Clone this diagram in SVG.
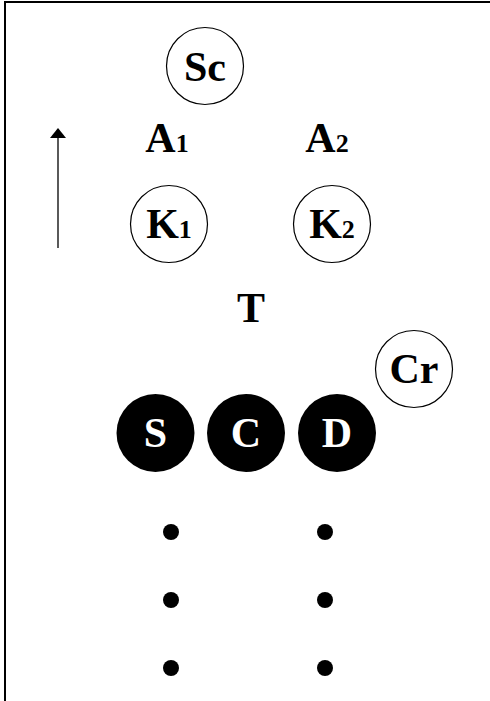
<svg xmlns="http://www.w3.org/2000/svg" width="490" height="701" viewBox="0 0 490 701">
<defs>
<style>
.lbl{font-family:"Liberation Serif","DejaVu Serif",serif;font-weight:bold;text-anchor:middle;}
.open{fill:#fff;stroke:#000;stroke-width:1.2;}
.fill{fill:#000;stroke:none;}
.big{font-size:42px;}
.sub{font-size:26px;}
.wt{fill:#fff;}
</style>
<marker id="ah" viewBox="0 0 10 16" refX="0" refY="8" markerWidth="10" markerHeight="16" markerUnits="userSpaceOnUse" orient="auto">
<path d="M0,0 L16,8 L0,16 Z" transform="scale(0.625,1)" fill="#000"/>
</marker>
</defs>
<rect width="490" height="701" fill="#fff"/>
<path d="M5,701 V2 H490" fill="none" stroke="#000" stroke-width="2"/>
<g id="connectors">
<line x1="58" y1="248" x2="58" y2="138" stroke="#000" stroke-width="1.3" marker-end="url(#ah)"/>
</g>
<g id="Sc"><circle class="open" cx="205" cy="66" r="38.5"/><text class="lbl big" x="205" y="81">Sc</text></g>
<g id="A1"><text class="lbl big" x="167" y="152">A<tspan class="sub">1</tspan></text></g>
<g id="A2"><text class="lbl big" x="327" y="152">A<tspan class="sub">2</tspan></text></g>
<g id="K1"><circle class="open" cx="169" cy="224" r="38.5"/><text class="lbl big" x="169" y="238">K<tspan class="sub">1</tspan></text></g>
<g id="K2"><circle class="open" cx="332" cy="224" r="38.5"/><text class="lbl big" x="332" y="238">K<tspan class="sub">2</tspan></text></g>
<g id="T"><text class="lbl big" x="251" y="322">T</text></g>
<g id="Cr"><circle class="open" cx="414" cy="369" r="38.5"/><text class="lbl big" x="414" y="383">Cr</text></g>
<g id="S"><circle class="fill" cx="155.5" cy="433" r="39"/><text class="lbl big wt" x="155.5" y="447">S</text></g>
<g id="C"><circle class="fill" cx="246" cy="433" r="39"/><text class="lbl big wt" x="246" y="447">C</text></g>
<g id="D"><circle class="fill" cx="337" cy="433" r="39"/><text class="lbl big wt" x="337" y="447">D</text></g>
<g id="dots">
<circle class="fill" cx="171" cy="532" r="8"/>
<circle class="fill" cx="325" cy="532" r="8"/>
<circle class="fill" cx="171" cy="600" r="8"/>
<circle class="fill" cx="325" cy="600" r="8"/>
<circle class="fill" cx="171" cy="668" r="8"/>
<circle class="fill" cx="325" cy="668" r="8"/>
</g>
</svg>
